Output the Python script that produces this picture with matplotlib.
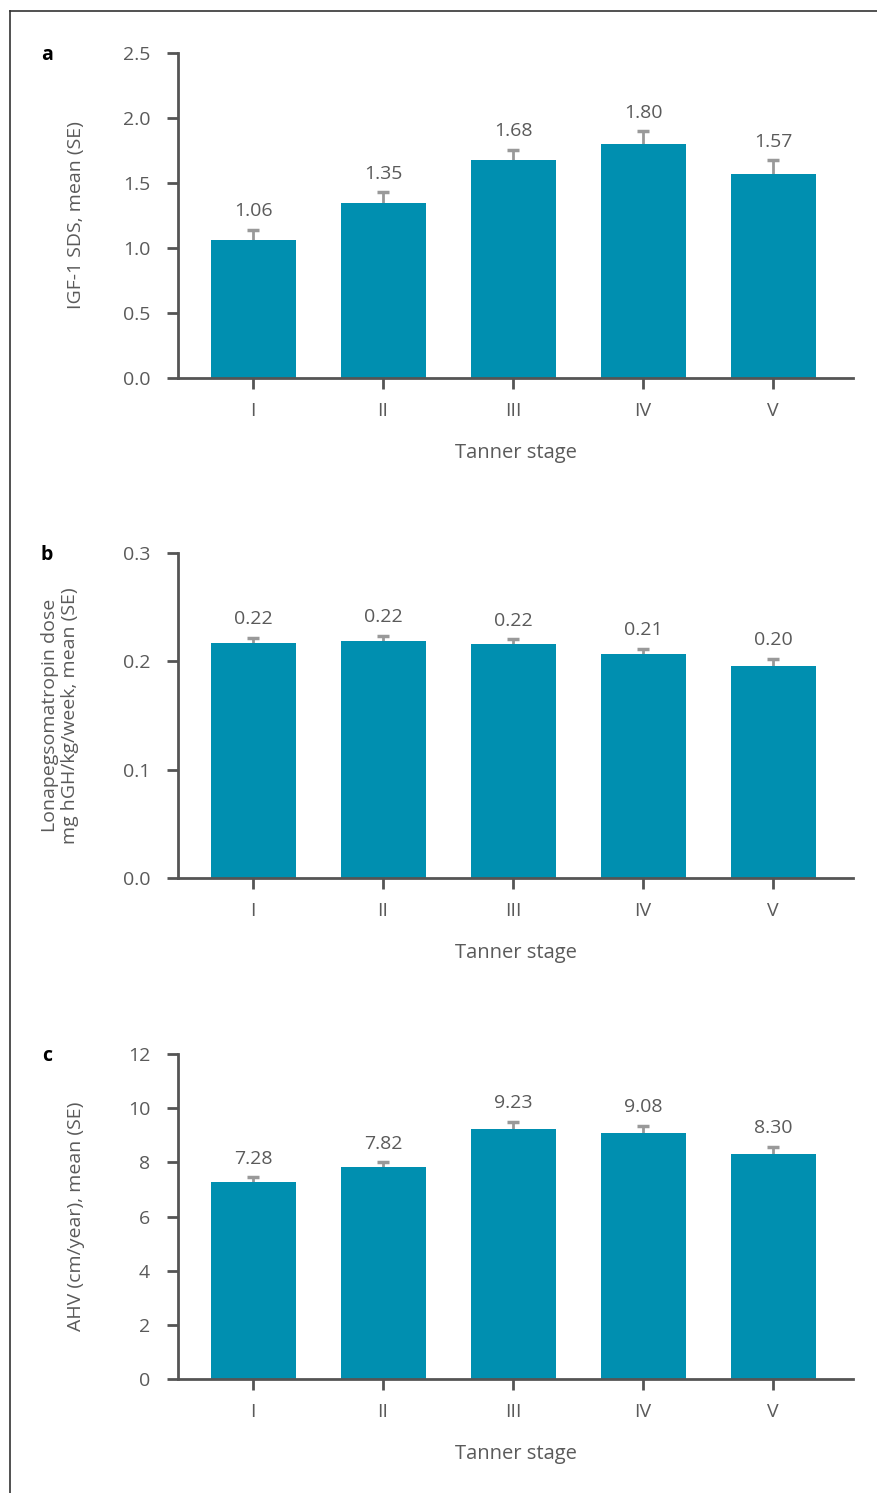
import matplotlib.pyplot as plt
from matplotlib.lines import Line2D
import numpy as np

plt.rcParams['font.family'] = ['Open Sans', 'DejaVu Sans']

# data
stages = ['I', 'II', 'III', 'IV', 'V']

igf1_mean = [1.06, 1.35, 1.68, 1.80, 1.57]
igf1_se = [0.082, 0.077, 0.075, 0.098, 0.105]

dose_mean = [0.217, 0.219, 0.216, 0.207, 0.196]
dose_se = [0.0046, 0.0046, 0.0043, 0.0046, 0.0065]

ahv_mean = [7.28, 7.82, 9.23, 9.08, 8.30]
ahv_se = [0.17, 0.18, 0.26, 0.26, 0.28]

bar_color = '#008fb0'
err_color = '#999999'
axis_color = '#555555'
text_color = '#5a5a5a'

fig = plt.figure(figsize=(8.77, 14.93), dpi=100)

# open frame round the figure (left and top edges only)
fig.add_artist(Line2D([9.5 / 877, 9.5 / 877], [0, 1 - 10.5 / 1493],
                      transform=fig.transFigure, color='#333333', lw=1.2))
fig.add_artist(Line2D([9.5 / 877, 1], [1 - 10.5 / 1493, 1 - 10.5 / 1493],
                      transform=fig.transFigure, color='#333333', lw=1.2))

panels = [
    ('a', igf1_mean, igf1_se, (0, 2.5), np.arange(0, 2.51, 0.5), '{:.1f}',
     'IGF-1 SDS, mean (SE)', 53, -0.151),
    ('b', dose_mean, dose_se, (0, 0.3), np.arange(0, 0.31, 0.1), '{:.1f}',
     'Lonapegsomatropin dose\nmg hGH/kg/week, mean (SE)', 553, -0.175),
    ('c', ahv_mean, ahv_se, (0, 12), np.arange(0, 13, 2), '{:.0f}',
     'AHV (cm/year), mean (SE)', 1054, -0.151),
]

x = np.arange(len(stages))
cap_half = 0.046

for letter, mean, se, ylim, yticks, fmt, ylabel, top_px, ylab_x in panels:
    ax = fig.add_axes([178 / 877, 1 - (top_px + 325) / 1493, 675 / 877, 325 / 1493])

    mean = np.array(mean)
    se = np.array(se)
    ax.bar(x, mean, width=0.654, color=bar_color, zorder=2)
    # upper error bars only
    ax.vlines(x, mean, mean + se, color=err_color, lw=2, zorder=1)
    ax.hlines(mean + se, x - cap_half, x + cap_half, color=err_color, lw=2.5, zorder=1)

    for xi, m, s in zip(x, mean, se):
        ax.annotate(f'{m:.2f}', (xi, m + s), xytext=(0, 7), textcoords='offset points',
                    ha='center', va='bottom', fontsize=14, color=text_color)

    ax.set_xlim(-0.577, 4.615)
    ax.set_ylim(*ylim)
    ax.set_yticks(yticks)
    ax.set_yticklabels([fmt.format(t) for t in yticks])
    ax.set_xticks(x)
    ax.set_xticklabels(stages)

    for side in ['top', 'right']:
        ax.spines[side].set_visible(False)
    for side in ['left', 'bottom']:
        ax.spines[side].set_color(axis_color)
        ax.spines[side].set_linewidth(2)

    ax.tick_params(axis='both', colors=axis_color, length=8, width=2,
                   labelsize=14, labelcolor=text_color)
    ax.tick_params(axis='y', pad=12)
    ax.tick_params(axis='x', pad=9)

    ax.set_ylabel(ylabel, fontsize=14, color=text_color, va='center', linespacing=1.15)
    ax.yaxis.set_label_coords(ylab_x, 0.5)
    ax.set_xlabel('Tanner stage', fontsize=14.5, color=text_color, va='center')
    ax.xaxis.set_label_coords(0.5, -0.231)

    fig.text(47 / 877, 1 - (top_px + 2) / 1493, letter, fontsize=14, fontweight='bold',
             color='black', ha='center', va='center')

fig.savefig('out.png', dpi=100)
